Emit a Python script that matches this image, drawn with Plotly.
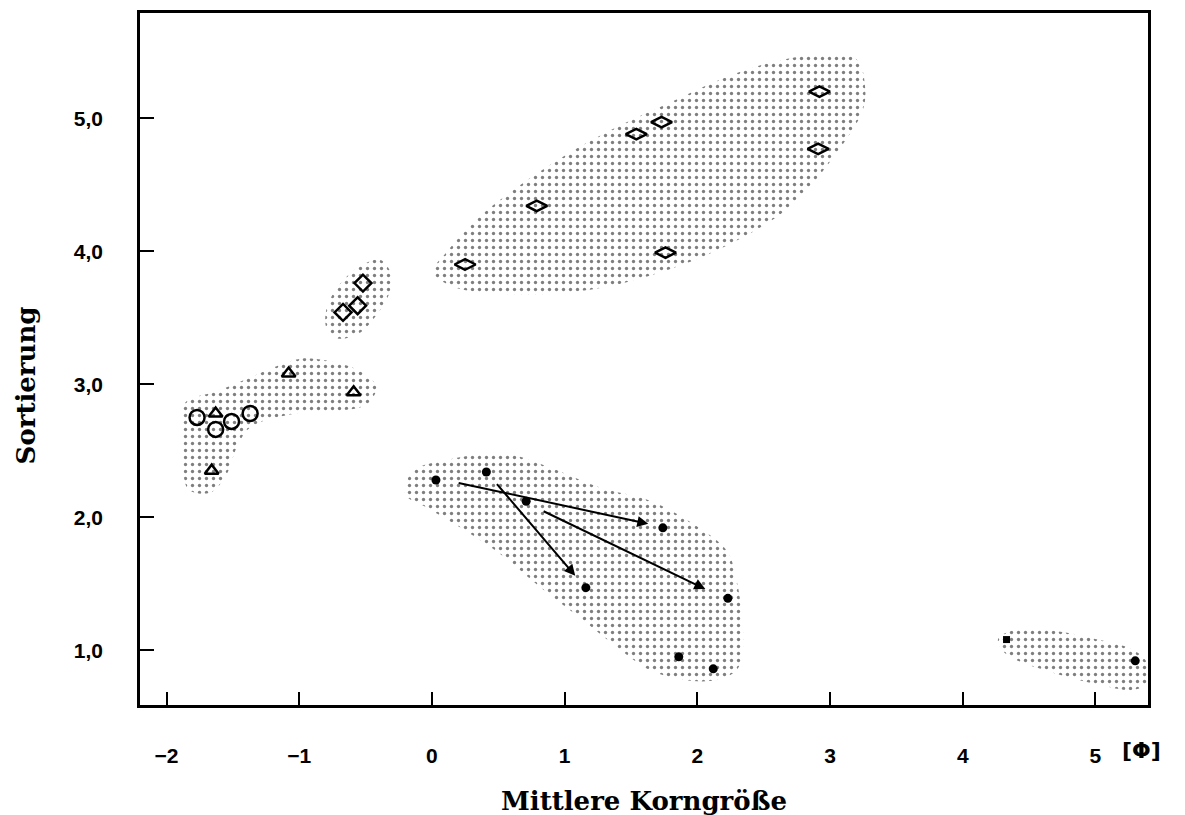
import plotly.graph_objects as go

# ---- data ----
# group A: flattened open diamonds (large upper field)
a_x = [0.25, 0.79, 1.54, 1.73, 1.76, 2.92, 2.91]
a_y = [3.90, 4.34, 4.88, 4.97, 3.99, 5.20, 4.77]
# group B: open diamonds
b_x = [-0.52, -0.56, -0.67]
b_y = [3.76, 3.59, 3.54]
# group C: open circles and triangles
c_circ_x = [-1.77, -1.63, -1.51, -1.37]
c_circ_y = [2.75, 2.66, 2.72, 2.78]
c_tri_x = [-1.63, -1.08, -0.59, -1.66]
c_tri_y = [2.78, 3.08, 2.94, 2.35]
# group D: filled dots (lower field)
d_x = [0.03, 0.41, 0.71, 1.74, 1.16, 2.23, 1.86, 2.12]
d_y = [2.28, 2.34, 2.12, 1.92, 1.47, 1.39, 0.95, 0.86]
# group E: far right
e_sq_x = [4.33]
e_sq_y = [1.08]
e_dot_x = [5.30]
e_dot_y = [0.92]
# arrows (tail -> head)
arr_x0 = [0.19, 0.48, 0.83]
arr_y0 = [2.26, 2.26, 2.05]
arr_x1 = [1.63, 1.08, 2.06]
arr_y1 = [1.95, 1.56, 1.46]

# stippled fields (outlines)
fieldA_x = [0.008, 0.113, 0.339, 0.663, 1.040, 1.417, 1.794, 2.170, 2.547, 2.924, 3.203, 3.263, 3.248,
            3.052, 2.675, 2.170, 1.665, 1.191, 0.663, 0.158]
fieldA_y = [3.845, 3.995, 4.242, 4.496, 4.743, 4.945, 5.118, 5.290, 5.417, 5.477, 5.439, 5.245, 5.065,
            4.743, 4.317, 4.017, 3.823, 3.710, 3.673, 3.733]
fieldB_x = [-0.392, -0.304, -0.317, -0.417, -0.567, -0.718, -0.794, -0.794, -0.718, -0.567]
fieldB_y = [3.935, 3.820, 3.695, 3.521, 3.371, 3.346, 3.421, 3.570, 3.720, 3.870]
fieldC_x = [-1.886, -1.849, -1.622, -1.321, -1.070, -0.944, -0.618, -0.467, -0.417, -0.492, -0.718,
            -1.070, -1.372, -1.472, -1.547, -1.673, -1.839, -1.874]
fieldC_y = [2.772, 2.872, 2.947, 3.072, 3.172, 3.196, 3.134, 3.046, 2.972, 2.847, 2.797,
            2.772, 2.672, 2.522, 2.323, 2.183, 2.213, 2.573]
fieldD_x = [-0.203, -0.141, 0.136, 0.387, 0.588, 0.889, 1.266, 1.643, 1.969, 2.221, 2.296, 2.334, 2.346,
            2.296, 2.145, 1.894, 1.643, 1.392, 1.140, 0.814, 0.512, 0.211, -0.040]
fieldD_y = [2.174, 2.348, 2.436, 2.473, 2.473, 2.373, 2.223, 2.124, 1.949, 1.749, 1.525, 1.275, 1.025,
            0.851, 0.776, 0.776, 0.851, 1.025, 1.225, 1.475, 1.725, 1.924, 2.073]
fieldE_x = [4.268, 4.381, 4.657, 5.034, 5.285, 5.390, 5.386, 5.285, 5.034, 4.657, 4.356, 4.280]
fieldE_y = [1.088, 1.150, 1.150, 1.076, 1.001, 0.901, 0.751, 0.701, 0.738, 0.838, 0.951, 1.025]

x_ticks = [-2, -1, 0, 1, 2, 3, 4, 5]
x_ticktext = ["\u22122", "\u22121", "0", "1", "2", "3", "4", "5"]
y_ticks = [1, 2, 3, 4, 5]
y_ticktext = ["1,0", "2,0", "3,0", "4,0", "5,0"]

fig = go.Figure()

for fx, fy in [(fieldA_x, fieldA_y), (fieldB_x, fieldB_y), (fieldC_x, fieldC_y),
               (fieldD_x, fieldD_y), (fieldE_x, fieldE_y)]:
    fig.add_trace(go.Scatter(
        x=fx + fx[:1], y=fy + fy[:1], mode="lines", fill="toself",
        line=dict(width=0, color="rgba(0,0,0,0)", shape="spline", smoothing=1.0),
        fillcolor="rgba(0,0,0,0)",
        fillpattern=dict(shape=".", size=7, solidity=0.18, fgcolor="black", bgcolor="white"),
        hoverinfo="skip", showlegend=False))

def pts(x, y, symbol, size, lw=2.5):
    fig.add_trace(go.Scatter(x=x, y=y, mode="markers", showlegend=False,
                             marker=dict(symbol=symbol, size=size, color="black",
                                         line=dict(width=lw, color="black"))))

pts(a_x, a_y, "diamond-wide-open", 15)
pts(b_x, b_y, "diamond-open", 13)
pts(c_circ_x, c_circ_y, "circle-open", 15)
pts(c_tri_x, c_tri_y, "triangle-up-open", 12)
pts(d_x, d_y, "circle", 9, 0)
pts(e_sq_x, e_sq_y, "square", 7, 0)
pts(e_dot_x, e_dot_y, "circle", 9, 0)

for x0, y0, x1, y1 in zip(arr_x0, arr_y0, arr_x1, arr_y1):
    fig.add_annotation(x=x1, y=y1, ax=x0, ay=y0, xref="x", yref="y", axref="x", ayref="y",
                       text="", showarrow=True, arrowhead=2, arrowsize=1.1, arrowwidth=2,
                       arrowcolor="black")

tickfont = dict(family="Liberation Sans", size=21, color="black", weight="bold")
titlefont = dict(family="DejaVu Serif", size=26, color="black", weight="bold")
fig.update_xaxes(range=[-2.2, 5.396], tickvals=x_ticks, ticktext=x_ticktext,
                 showline=True, mirror=True, linewidth=2.5, linecolor="black",
                 ticks="inside", ticklen=13, tickwidth=2, tickcolor="black",
                 showgrid=False, zeroline=False, tickfont=tickfont, ticklabelstandoff=30,
                 title=dict(text="Mittlere Korngröße", standoff=26, font=titlefont))
fig.update_yaxes(range=[0.588, 5.791], tickvals=y_ticks, ticktext=y_ticktext,
                 showline=True, mirror=True, linewidth=2.5, linecolor="black",
                 ticks="inside", ticklen=14, tickwidth=2, tickcolor="black",
                 showgrid=False, zeroline=False, tickfont=tickfont, ticklabelstandoff=30)

fig.add_annotation(text="Sortierung", xref="paper", yref="paper", x=-0.113, y=0.462,
                   textangle=-90, showarrow=False, xanchor="center", yanchor="middle",
                   font=titlefont)
fig.add_annotation(text="[\u03a6]", xref="paper", yref="paper", x=0.994, y=0, yanchor="top",
                   xanchor="center", yshift=-31, showarrow=False,
                   font=dict(family="DejaVu Sans", size=22, color="black", weight="bold"))

# page body adds an 8px offset; margins compensate so the axes box sits where it should
fig.update_layout(width=1185, height=815, paper_bgcolor="white", plot_bgcolor="white",
                  margin=dict(l=132, r=45, t=2, b=118), showlegend=False)

fig.write_html("out.html")
